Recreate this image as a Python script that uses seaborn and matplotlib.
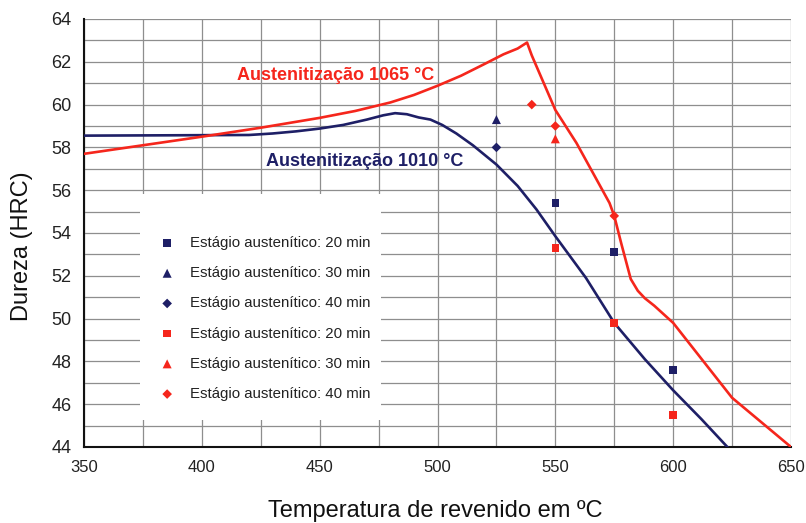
import matplotlib
matplotlib.use("Agg")
import matplotlib.pyplot as plt
from matplotlib.patches import Rectangle
from matplotlib.ticker import MultipleLocator
import pandas as pd
import seaborn as sns

# Tempering curves (temperature in °C, hardness in HRC)
temp_1010 = [350, 420, 430, 440, 450, 460, 470, 477, 482, 487, 492, 497, 502, 508,
             515, 525, 534, 542, 550, 563, 575, 588, 600, 612, 623, 630]
hrc_1010 = [58.55, 58.58, 58.65, 58.75, 58.88, 59.05, 59.3, 59.5, 59.6, 59.55, 59.4,
            59.3, 59.05, 58.65, 58.1, 57.2, 56.2, 55.1, 53.85, 51.9, 49.8, 48.1, 46.65,
            45.3, 44.0, 43.1]

temp_1065 = [350, 375, 400, 425, 450, 465, 480, 490, 500, 510, 520, 528, 534, 538,
             540, 550, 559, 567, 573, 575, 578, 582, 585, 588, 592, 600, 625, 650]
hrc_1065 = [57.7, 58.1, 58.5, 58.92, 59.38, 59.7, 60.1, 60.45, 60.88, 61.35, 61.9,
            62.35, 62.62, 62.9, 62.3, 59.75, 58.2, 56.6, 55.4, 54.8, 53.5, 51.85, 51.3,
            50.95, 50.6, 49.8, 46.3, 44.0]

# Measured points per austenitic stage
t_1010_20 = [550, 575, 600]
h_1010_20 = [55.4, 53.1, 47.6]
t_1010_30 = [525]
h_1010_30 = [59.3]
t_1010_40 = [525]
h_1010_40 = [58.0]
t_1065_20 = [550, 575, 600]
h_1065_20 = [53.3, 49.8, 45.5]
t_1065_30 = [550]
h_1065_30 = [58.4]
t_1065_40 = [540, 550, 575]
h_1065_40 = [60.0, 59.0, 54.8]

NAVY = "#1e1f66"
RED = "#f5261c"

sns.set_theme(style="white")
plt.rcParams["font.family"] = ["Liberation Sans", "DejaVu Sans"]

fig = plt.figure(figsize=(8.06, 5.23), dpi=100)
ax = fig.add_axes([84 / 806, 1 - 447 / 523, 707 / 806, 428 / 523])

curves = pd.concat([
    pd.DataFrame({"T": temp_1010, "HRC": hrc_1010, "serie": "1010"}),
    pd.DataFrame({"T": temp_1065, "HRC": hrc_1065, "serie": "1065"}),
])
sns.lineplot(data=curves, x="T", y="HRC", hue="serie", palette={"1010": NAVY, "1065": RED},
             sort=False, estimator=None, linewidth=1.9, legend=False, ax=ax, zorder=3)

series = [
    (t_1010_20, h_1010_20, "s", NAVY, 30, "20"),
    (t_1010_30, h_1010_30, "^", NAVY, 42, "30"),
    (t_1010_40, h_1010_40, "D", NAVY, 24, "40"),
    (t_1065_20, h_1065_20, "s", RED, 30, "20"),
    (t_1065_30, h_1065_30, "^", RED, 42, "30"),
    (t_1065_40, h_1065_40, "D", RED, 24, "40"),
]
for t, h, mk, col, size, mins in series:
    sns.scatterplot(x=t, y=h, marker=mk, color=col, s=size, edgecolor="none",
                    label=f"Estágio austenítico: {mins} min", ax=ax, zorder=4, legend=False)

ax.set_xlim(350, 650)
ax.set_ylim(44, 64)
ax.xaxis.set_major_locator(MultipleLocator(50))
ax.xaxis.set_minor_locator(MultipleLocator(25))
ax.yaxis.set_major_locator(MultipleLocator(2))
ax.yaxis.set_minor_locator(MultipleLocator(1))
ax.grid(True, which="both", color="#8e8e8e", linewidth=0.9, zorder=0)
ax.set_axisbelow(True)

for side in ("top", "right"):
    ax.spines[side].set_visible(False)
for side in ("left", "bottom"):
    ax.spines[side].set_color("#111111")
    ax.spines[side].set_linewidth(1.5)

ax.tick_params(axis="both", which="major", direction="inout", length=6, width=1.1,
               color="#111111", labelcolor="#222222")
ax.tick_params(axis="x", which="major", labelsize=12, pad=6)
ax.tick_params(axis="y", which="major", labelsize=13, pad=6)
ax.tick_params(axis="x", which="minor", direction="inout", length=5, width=1.0, color="#111111")
ax.tick_params(axis="y", which="minor", length=0)

ax.set_xlabel("Temperatura de revenido em ºC", fontsize=17, color="#111111", va="center")
ax.set_ylabel("Dureza (HRC)", fontsize=17, color="#111111", va="center")
ax.xaxis.set_label_coords(0.497, -0.15)
ax.yaxis.set_label_coords(-0.087, 0.47)

ax.text(414.8, 61.34, "Austenitização 1065 °C", color=RED, fontsize=13,
        fontweight="bold", va="center", ha="left", zorder=5)
ax.text(427.4, 57.36, "Austenitização 1010 °C", color=NAVY, fontsize=13,
        fontweight="bold", va="center", ha="left", zorder=5)

# white legend panel over the grid
ax.add_patch(Rectangle((0.0792, 0.063), 0.341, 0.528, transform=ax.transAxes,
                       facecolor="white", edgecolor="none", zorder=2))

handles, labels = ax.get_legend_handles_labels()
leg = ax.legend(handles, labels, loc="upper left", bbox_to_anchor=(0.107, 0.493),
                fontsize=10.8, frameon=False, borderpad=0, labelspacing=1.08,
                handlelength=1.0, handletextpad=1.0, borderaxespad=0)
for txt in leg.get_texts():
    txt.set_color("#222222")
leg.set_zorder(6)

fig.savefig("out.png", dpi=100, facecolor="white")
